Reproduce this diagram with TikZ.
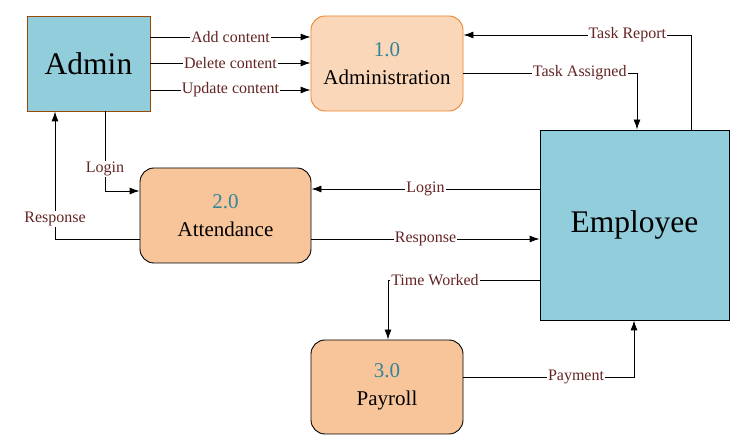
\documentclass[tikz,border=0pt]{standalone}
\usepackage{fontspec}
\setmainfont{Liberation Serif}
\newfontfamily\diagfont{Liberation Serif}
\usetikzlibrary{positioning,arrows.meta}
\definecolor{entityblue}{HTML}{92CDDC}
\definecolor{adminedge}{HTML}{984807}
\definecolor{procpale}{HTML}{FBD7B9}
\definecolor{procedge}{HTML}{E9832C}
\definecolor{procfill}{HTML}{F8C59A}
\definecolor{numteal}{HTML}{31849B}
\definecolor{labelred}{HTML}{632523}
\tikzset{%
entity/.style={draw,rectangle,fill=entityblue,inner sep=0,font=\diagfont\fontsize{31.5}{36}\selectfont},
process/.style={draw,rectangle,rounded corners=14pt,fill=procfill,align=center,inner sep=0,
  minimum width=152pt,minimum height=95pt,font=\diagfont\fontsize{21}{28}\selectfont},
flow/.style={draw,-{Latex[length=10pt,width=7pt]},line width=0.9pt},
flowlabel/.style={fill=white,inner sep=1pt,text=labelred,font=\diagfont\fontsize{16}{18}\selectfont}
}
\begin{document}
\begin{tikzpicture}[x=1pt,y=-1pt,line width=0.9pt]
  \useasboundingbox (0,0) rectangle (748,446);

  % entities
  \node[entity,draw=adminedge,minimum width=123pt,minimum height=95pt] (admin) at (88.5,63.5) {Admin};
  \node[entity,minimum width=189pt,minimum height=190pt] (emp) at (634.5,225) {Employee};

  % processes
  \node[process,fill=procpale,draw=procedge] (admproc) at (387,63.5) {\textcolor{numteal}{1.0}\\Administration};
  \node[process,minimum width=171pt] (attend) at (225.5,215.5) {\textcolor{numteal}{2.0}\\Attendance};
  \node[process,minimum height=94pt] (payroll) at (387,387) {\textcolor{numteal}{3.0}\\Payroll};

  % admin flows
  \draw[flow] (admin.east |- 0,37) -- node[flowlabel] {Add content} (admproc.west |- 0,37);
  \draw[flow] (admin.east |- 0,63) -- node[flowlabel] {Delete content} (admproc.west |- 0,63);
  \draw[flow] (admin.east |- 0,90) -- node[flowlabel] {Update content} (admproc.west |- 0,90);
  \draw[flow] (admin.south -| 105,0) |- node[flowlabel,pos=0.36] {Login} (attend.west |- 0,191);
  \draw[flow] (attend.west |- 0,239) -| node[flowlabel,pos=0.58] {Response} (admin.south -| 55,0);

  % employee flows
  \draw[flow] (emp.north -| 691,0) |- node[flowlabel,pos=0.64] {Task Report} (admproc.east |- 0,35);
  \draw[flow] (admproc.east |- 0,73) -| node[flowlabel,pos=0.335] {Task Assigned} (emp.north -| 637,0);
  \draw[flow] (emp.west |- 0,189) -- node[flowlabel] {Login} (attend.east |- 0,189);
  \draw[flow] (attend.east |- 0,239) -- node[flowlabel] {Response} (emp.west |- 0,239);
  \draw[flow] (emp.west |- 0,280) -| node[flowlabel,pos=0.345] {Time Worked} (payroll.north -| 388,0);
  \draw[flow] (payroll.east |- 0,377) -| node[flowlabel,pos=0.33] {Payment} (emp.south -| 634,0);

\end{tikzpicture}
\end{document}
